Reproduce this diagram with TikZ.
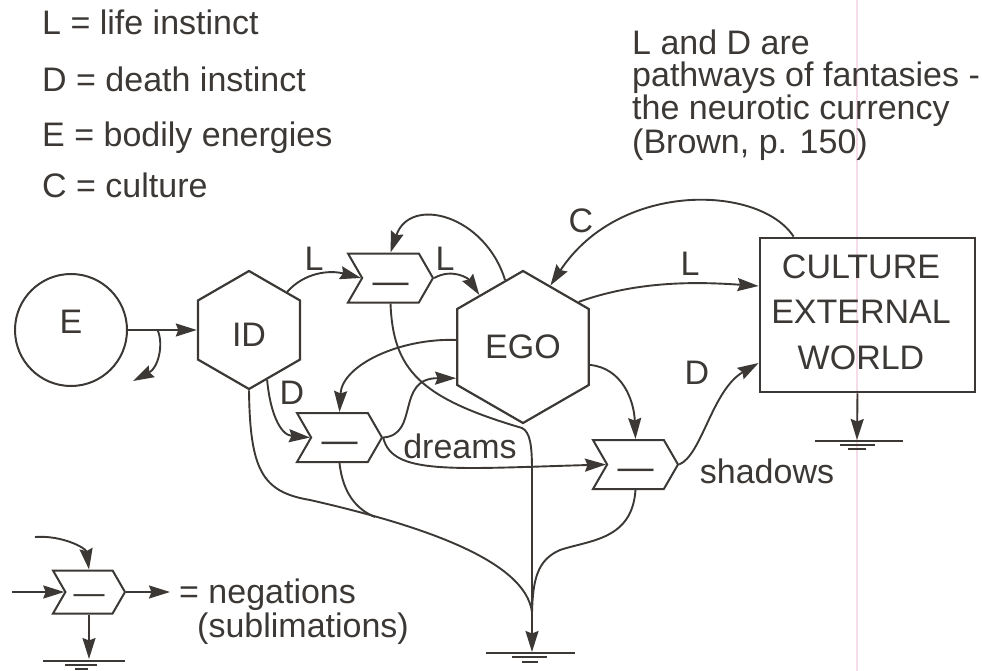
\documentclass[tikz,border=0pt]{standalone}
\usepackage{fontspec}
\setmainfont{Liberation Sans}
\usetikzlibrary{arrows.meta,shapes.geometric,shapes.symbols,calc}
\definecolor{ink}{HTML}{3B3835}
\definecolor{pinkline}{HTML}{F6DCE8}
\begin{document}
\begin{tikzpicture}[x=1pt,y=-1pt,
  every node/.style={text=ink, font=\fontsize{34}{36}\selectfont},
  conn/.style={draw=ink, line width=1.9pt, -{Stealth[length=21pt,width=13pt,inset=2.5pt]}},
  plain/.style={draw=ink, line width=1.9pt},
  hexa/.style={regular polygon, regular polygon sides=6, shape border rotate=30, draw=ink, line width=2.2pt, inner sep=0pt},
  negbox/.style={signal, signal to=east, signal from=west, signal pointer angle=120, draw=ink, line width=2pt, minimum width=85pt, minimum height=49pt, inner sep=0pt, text depth=0pt, text height=30pt, font=\fontsize{36}{36}\selectfont},
  lbl/.style={inner sep=0pt, text depth=0pt},
  gline/.style={draw=ink, line width=1.7pt}
]
\useasboundingbox (0,0) rectangle (982,671);
\draw[pinkline, line width=2.5pt] (857,0) -- (857,671);

% legend texts
\node[anchor=base west, inner sep=0pt] (t1) at (42,35) {L = life instinct};
\node[anchor=base west, inner sep=0pt] (t2) at (42,92) {D = death instinct};
\node[anchor=base west, inner sep=0pt] (t3) at (42,147) {E = bodily energies};
\node[anchor=base west, inner sep=0pt] (t4) at (42,197) {C = culture};
\node[anchor=base west, inner sep=0pt] (r1) at (632,55) {L and D are};
\node[anchor=base west, inner sep=0pt] (r2) at (632,87) {pathways of fantasies -};
\node[anchor=base west, inner sep=0pt] (r3) at (632,120) {the neurotic currency};
\node[anchor=base west, inner sep=0pt] (r4) at (632,154) {(Brown, p. 150)};

% main nodes
\node[circle, draw=ink, line width=2pt, minimum size=112pt, inner sep=0pt, text depth=16pt] (E) at (71,330) {E};
\node[hexa, minimum size=118pt, text height=32pt] (ID) at (249,330) {ID};
\node[hexa, minimum size=152pt] (EGO) at (523,347) {EGO};
\node[negbox] (N1) at (390.5,278) {—};
\node[negbox] (N2) at (339.5,437.5) {—};
\node[negbox] (N3) at (635.5,464.5) {—};
\node[draw=ink, line width=2.8pt, minimum width=215pt, minimum height=154pt, inner sep=0pt] (CUL) at (867.5,315) {};
\node[align=center, font=\fontsize{34}{45.5}\selectfont] (CULt) at (861,312) {CULTURE\\EXTERNAL\\WORLD};

% labels
\node[lbl] (lL1) at (314,259) {L};
\node[lbl] (lL2) at (445,259) {L};
\node[lbl] (lD1) at (292,393) {D};
\node[lbl] (lC) at (581,221) {C};
\node[lbl] (lL3) at (690,264) {L};
\node[lbl] (lD2) at (697,373) {D};
\node[anchor=base, inner sep=0pt] (ldr) at (460,458) {dreams};
\node[anchor=base, inner sep=0pt] (lsh) at (767,483) {shadows};

% connectors
\coordinate (Ebr) at ($(E.east)!0.43!(ID.west)$);
\coordinate (Estub) at (133,381);
\draw[conn] (E.east) -- (ID.west);
\draw[conn] (Ebr) .. controls (164,345) and (158,368) .. (Estub);

\draw[conn] (ID.45) .. controls (305,272) and (330,270) .. (N1.180);
\draw[conn] (N1.east) .. controls (452,268) and (468,278) .. (EGO.130);
\draw[conn] (EGO.105) .. controls (485,215) and (410,195) .. (N1.north);
\draw[conn] ($(CUL.north west)+(35,0)$) .. controls (760,185) and (620,180) .. (EGO.66);
\draw[conn] (EGO.39) .. controls (640,280) and (700,282) .. ($(CUL.west)+(0,-29)$);
\draw[conn] (N3.east) .. controls (702,455) and (712,390) .. ($(CUL.west)+(0,48)$);
\draw[conn] (EGO.345) .. controls (622,368) and (634,400) .. (N3.north);
\draw[conn] (ID.290) .. controls (270,412) and (280,435) .. (N2.180);
\draw[conn] (EGO.174) .. controls (400,338) and (342,365) .. (N2.north);
\draw[conn] (N2.east) .. controls (420,435) and (395,378) .. (EGO.205);
\draw[conn] (N2.east) .. controls (392,475) and (450,469) .. (N3.180);

% lines to ground
\coordinate (G) at (532,652);
\coordinate (M) at (532,612);
\coordinate (M2) at (375,517);
\draw[conn] (N1.south) .. controls (393,370) and (420,398) .. (522,428) .. controls (530,432) and (532,445) .. (532,470) -- (G);
\draw[plain] (ID.south) .. controls (250,470) and (262,492) .. (310,500) .. controls (420,525) and (525,560) .. (M);
\draw[plain] (N2.south) .. controls (343,495) and (358,510) .. (M2);
\draw[plain] (N3.south) .. controls (632,540) and (590,540) .. (560,550) .. controls (537,560) and (533,580) .. (M);
\draw[gline] ($(G)+(-46,1)$) -- ($(G)+(43,1)$);
\draw[gline] ($(G)+(-20,5)$) -- ($(G)+(15,5)$);
\draw[gline] ($(G)+(-10,10)$) -- ($(G)+(6,10)$);

\coordinate (G2) at (857,440);
\draw[conn] ($(CUL.south)+(-10,0)$) -- (G2);
\draw[gline] ($(G2)+(-42,1)$) -- ($(G2)+(46,1)$);
\draw[gline] ($(G2)+(-17,5)$) -- ($(G2)+(18,5)$);
\draw[gline] ($(G2)+(-9,9)$) -- ($(G2)+(9,9)$);

% legend symbol
\node[negbox, minimum width=72pt, minimum height=43pt, font=\fontsize{31}{33}\selectfont, text height=23pt] (NL) at (89,592) {—};
\coordinate (Lin) at (12,592);
\coordinate (Lout) at (170,592);
\coordinate (Ltop) at (35,537);
\coordinate (G3) at (89,659);
\draw[conn] (Lin) -- (NL.180);
\draw[conn] (NL.east) -- (Lout);
\draw[conn] (Ltop) .. controls (62,535) and (86,548) .. (NL.north);
\draw[conn] (NL.south) -- (G3);
\draw[gline] ($(G3)+(-46,2)$) -- ($(G3)+(36,2)$);
\draw[gline] ($(G3)+(-24,6)$) -- ($(G3)+(8,6)$);
\draw[gline] ($(G3)+(-14,10)$) -- ($(G3)+(-1,10)$);
\node[anchor=base west, inner sep=0pt] (neg1) at (179,603) {= negations};
\node[anchor=base west, inner sep=0pt] (neg2) at (197,637) {(sublimations)};
\end{tikzpicture}
\end{document}
